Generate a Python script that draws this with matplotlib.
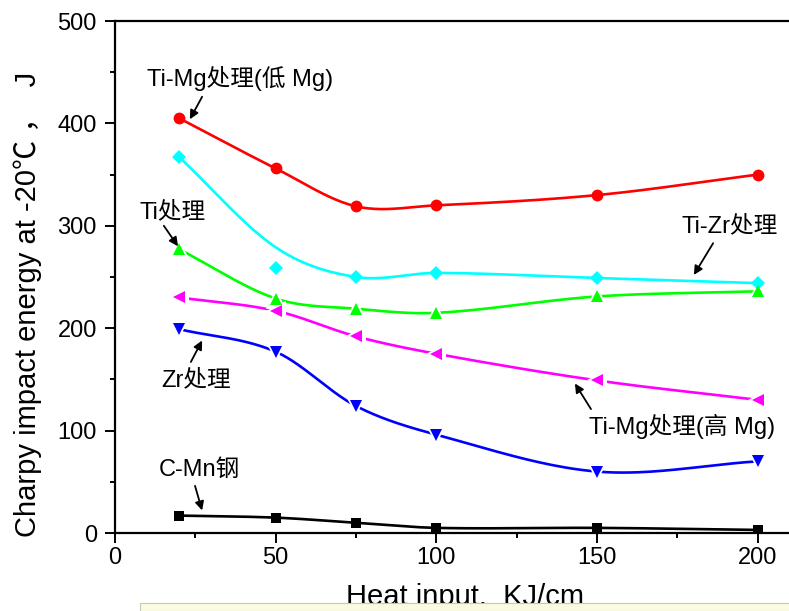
import matplotlib
matplotlib.use("Agg")
import matplotlib.pyplot as plt
from matplotlib.patches import Rectangle
import numpy as np

plt.rcParams['font.family'] = ['Liberation Sans', 'Noto Sans CJK SC', 'DejaVu Sans']

heat_input = [20, 50, 75, 100, 150, 200]
ti_mg_low = [405, 356, 319, 320, 330, 350]
ti_zr = [367, 259, 250, 254, 249, 244]
ti_only = [277, 229, 219, 215, 231, 236]
ti_mg_high = [230, 217, 192, 175, 149, 130]
zr_only = [199, 177, 124, 96, 60, 70]
c_mn = [17, 15, 10, 5, 5, 3]
# the drawn Ti-Zr curve misses its 50 KJ/cm point
ti_zr_curve = [367, 279, 250, 254, 249, 244]

x_ticks = [0, 50, 100, 150, 200]
y_ticks = [0, 100, 200, 300, 400, 500]


def spline(xs, ys, n=40):
    # Catmull-Rom style cubic Hermite through the points
    x = np.asarray(xs, float)
    y = np.asarray(ys, float)
    m = np.zeros_like(y)
    m[1:-1] = (y[2:] - y[:-2]) / (x[2:] - x[:-2])
    m[0] = (y[1] - y[0]) / (x[1] - x[0])
    m[-1] = (y[-1] - y[-2]) / (x[-1] - x[-2])
    ox, oy = [], []
    for i in range(len(x) - 1):
        h = x[i + 1] - x[i]
        t = np.linspace(0, 1, n)
        h00 = 2 * t ** 3 - 3 * t ** 2 + 1
        h10 = t ** 3 - 2 * t ** 2 + t
        h01 = -2 * t ** 3 + 3 * t ** 2
        h11 = t ** 3 - t ** 2
        ox.append(x[i] + t * h)
        oy.append(h00 * y[i] + h10 * h * m[i] + h01 * y[i + 1] + h11 * h * m[i + 1])
    return np.concatenate(ox), np.concatenate(oy)


series = [
    (ti_mg_low, ti_mg_low, '#ff0000', 'o', 8.5, False),
    (ti_zr, ti_zr_curve, '#00ffff', 'D', 7.5, False),
    (ti_only, ti_only, '#00ff00', '^', 9, True),
    (ti_mg_high, ti_mg_high, '#ff00ff', '<', 9, True),
    (zr_only, zr_only, '#0000ff', 'v', 9, True),
    (c_mn, c_mn, '#000000', 's', 7.5, False),
]

fig = plt.figure(figsize=(7.89, 6.11), dpi=100)
ax = fig.add_axes([115 / 789, 1 - 533 / 611, 674 / 789, 512 / 611])

for vals, curve, col, mk, ms, gap in series:
    sx, sy = spline(heat_input, curve)
    ax.plot(sx, sy, color=col, lw=1.9, zorder=2)
    if gap:
        ax.plot(heat_input, vals, ls='none', marker=mk, ms=ms + 5, color='white',
                markeredgewidth=0, zorder=3)
    ax.plot(heat_input, vals, ls='none', marker=mk, ms=ms, color=col,
            markeredgewidth=0, zorder=4)

ax.set_xlim(0, 674 / 3.214)
ax.set_ylim(0, 500)
ax.set_xticks(x_ticks)
ax.set_yticks(y_ticks)
ax.set_xticks([25, 75, 125, 175], minor=True)
ax.set_yticks([50, 150, 250, 350, 450], minor=True)
ax.tick_params(which='major', direction='out', length=7, width=1.4, labelsize=17)
ax.tick_params(which='minor', direction='out', length=3.5, width=1.4)
ax.tick_params(axis='x', pad=3)
ax.tick_params(axis='y', pad=6)
for s in ['left', 'top', 'bottom']:
    ax.spines[s].set_linewidth(1.6)
ax.spines['right'].set_visible(False)

ax.set_ylabel('Charpy impact energy at -20℃ ，  J', fontsize=21)
ax.yaxis.set_label_coords(-0.109, 0.447)
ax.set_xlabel('Heat input.  KJ/cm', fontsize=21)
ax.xaxis.set_label_coords(0.519, -0.098)

labels = [
    ('Ti-Mg处理(低 Mg)', (38.9, 444), (27.1, 426), (23.3, 404)),
    ('Ti处理', (18.0, 313), (15.2, 300), (19.6, 280)),
    ('Ti-Zr处理', (191.3, 300), (186.1, 283), (180.1, 252)),
    ('Zr处理', (25.2, 149), (23.6, 167), (27.1, 188)),
    ('Ti-Mg处理(高 Mg)', (176.4, 104), (148.1, 121), (143.1, 146)),
    ('C-Mn钢', (26.4, 62), (24.9, 46), (27.1, 22)),
]
for txt, pos, tail, head in labels:
    ax.text(pos[0], pos[1], txt, fontsize=17, ha='center', va='center', zorder=6)
    ax.annotate('', xy=head, xytext=tail,
                arrowprops=dict(arrowstyle='-|>', color='black', lw=1.3,
                                mutation_scale=13, shrinkA=0, shrinkB=0), zorder=6)

# pale strip at the bottom of the scanned figure
fig.patches.append(Rectangle((140 / 789, 0), 1, 8 / 611, transform=fig.transFigure,
                             facecolor='#fbfbe2', edgecolor='#c8c8b8', lw=0.8, zorder=10))

fig.savefig('out.png', dpi=100)
